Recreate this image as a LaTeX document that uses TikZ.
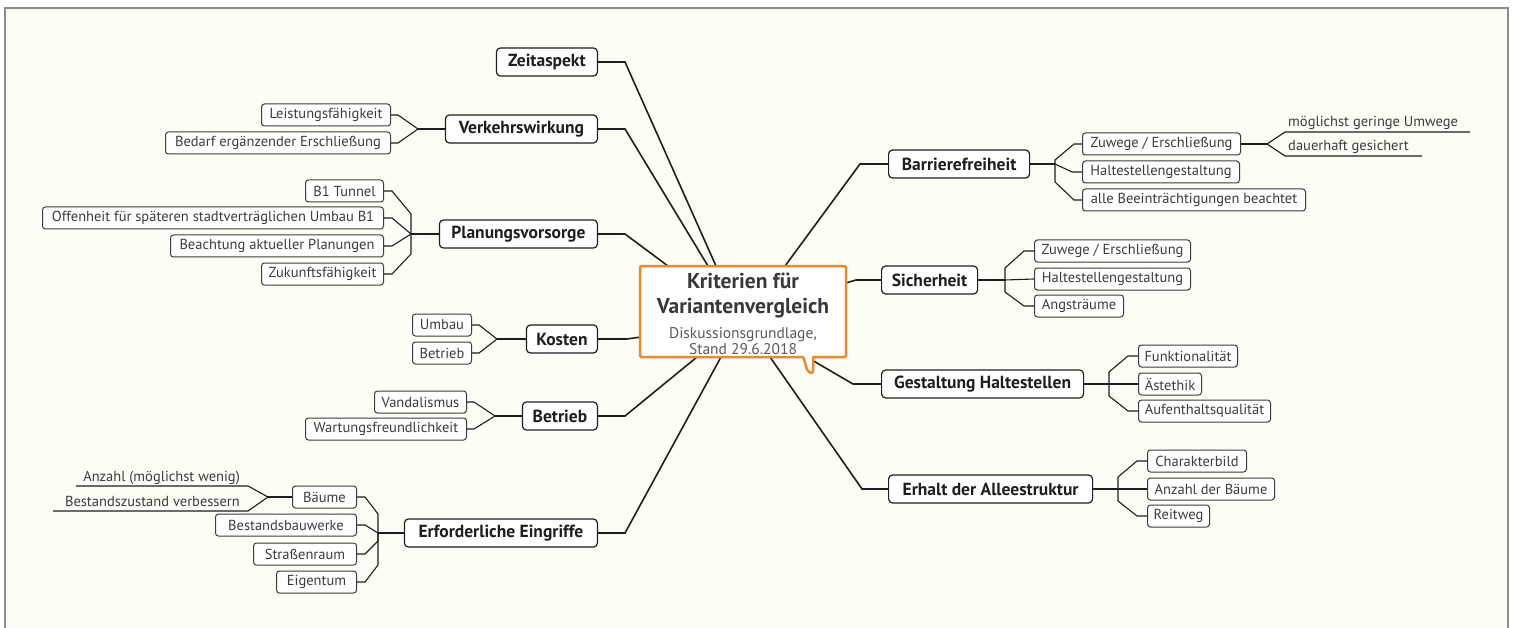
\documentclass[tikz,border=0pt]{standalone}
\usepackage{fontspec}
\setmainfont{PT Sans}
\usetikzlibrary{calc}
\definecolor{cream}{HTML}{FDFCF5}
\definecolor{framec}{HTML}{8C8C8C}
\definecolor{orng}{HTML}{EA8A2E}
\definecolor{ink}{HTML}{1E1E1E}
\definecolor{subink}{HTML}{3C3C3C}
\definecolor{grayt}{HTML}{5A5A5A}
\begin{document}
\begin{tikzpicture}[x=1pt,y=-1pt,
  mainbox/.style={draw=ink, line width=1.2pt, rounded corners=4pt, fill=white, font=\fontsize{17.5}{20}\selectfont\bfseries, text=ink, minimum height=28pt, inner xsep=5pt, inner ysep=0pt},
  subbox/.style={draw=subink, line width=1pt, rounded corners=3pt, fill=white, font=\fontsize{14.5}{16}\selectfont, text=subink, minimum height=22pt, inner xsep=4pt, inner ysep=0pt},
  floattext/.style={font=\fontsize{14.5}{16}\selectfont, text=subink, inner sep=0pt},
  mconn/.style={line width=1.6pt, draw=ink},
  sconn/.style={line width=1.1pt, draw=ink},
]
\useasboundingbox (0,0) rectangle (1514,628);
\fill[white] (0,0) rectangle (1514,628);
\begin{scope}
\clip (0,0) rectangle (1514,628);
\filldraw[fill=cream, draw=framec, line width=1.2pt] (5,8) rectangle (1508,650);
\end{scope}

% ---------- main topics, left
\node[mainbox, anchor=east, minimum width=101] (zeit) at (598,62) {Zeitaspekt};
\node[mainbox, anchor=east, minimum width=152] (verk) at (598,129) {Verkehrswirkung};
\node[mainbox, anchor=east, minimum width=158] (plan) at (598,234) {Planungsvorsorge};
\node[mainbox, anchor=east, minimum width=71] (kost) at (598,339) {Kosten};
\node[mainbox, anchor=east, minimum width=75] (betr) at (598,416) {Betrieb};
\node[mainbox, anchor=east, minimum width=193] (erf) at (598,533) {Erforderliche Eingriffe};

% ---------- main topics, right
\node[mainbox, anchor=west, minimum width=141] (barr) at (888,164) {Barrierefreiheit};
\node[mainbox, anchor=west, minimum width=96] (sich) at (881,280) {Sicherheit};
\node[mainbox, anchor=west, minimum width=202] (gest) at (881,384) {Gestaltung Haltestellen};
\node[mainbox, anchor=west, minimum width=204] (erh) at (888,489) {Erhalt der Alleestruktur};

% ---------- subtopics, left
\node[subbox, anchor=east, minimum width=129] (leist) at (391,115) {Leistungsfähigkeit};
\node[subbox, anchor=east, minimum width=225] (bedarf) at (391,143) {Bedarf ergänzender Erschließung};
\node[subbox, anchor=east, minimum width=78] (b1) at (384,191) {B1 Tunnel};
\node[subbox, anchor=east, minimum width=341] (offen) at (384,218) {Offenheit für späteren stadtverträglichen Umbau B1};
\node[subbox, anchor=east, minimum width=213] (beacht) at (384,246) {Beachtung aktueller Planungen};
\node[subbox, anchor=east, minimum width=122] (zuk) at (384,274) {Zukunftsfähigkeit};
\node[subbox, anchor=east, minimum width=59] (umbau) at (472,325) {Umbau};
\node[subbox, anchor=east, minimum width=59] (kbetr) at (472,353) {Betrieb};
\node[subbox, anchor=east, minimum width=92] (vand) at (467,402) {Vandalismus};
\node[subbox, anchor=east, minimum width=161] (wart) at (467,429) {Wartungsfreundlichkeit};
\node[subbox, anchor=east, minimum width=64] (baeume) at (357,497) {Bäume};
\node[subbox, anchor=east, minimum width=141] (bestand) at (357,525) {Bestandsbauwerke};
\node[subbox, anchor=east, minimum width=103] (strasse) at (357,554) {Straßenraum};
\node[subbox, anchor=east, minimum width=80] (eigen) at (357,582) {Eigentum};

% ---------- subtopics, right
\node[subbox, anchor=west, minimum width=158] (zw1) at (1082,144) {Zuwege / Erschließung};
\node[subbox, anchor=west, minimum width=157] (hs1) at (1082,172) {Haltestellengestaltung};
\node[subbox, anchor=west, minimum width=223] (alle) at (1082,200) {alle Beeinträchtigungen beachtet};
\node[subbox, anchor=west, minimum width=156] (zw2) at (1034,251) {Zuwege / Erschließung};
\node[subbox, anchor=west, minimum width=156] (hs2) at (1034,279) {Haltestellengestaltung};
\node[subbox, anchor=west, minimum width=89] (angst) at (1034,306) {Angsträume};
\node[subbox, anchor=west, minimum width=99] (funk) at (1138,356) {Funktionalität};
\node[subbox, anchor=west, minimum width=63] (aest) at (1138,384) {Ästethik};
\node[subbox, anchor=west, minimum width=132] (aufent) at (1138,411) {Aufenthaltsqualität};
\node[subbox, anchor=west, minimum width=99] (charak) at (1147,461) {Charakterbild};
\node[subbox, anchor=west, minimum width=127] (anzb) at (1147,489) {Anzahl der Bäume};
\node[subbox, anchor=west, minimum width=62] (reit) at (1147,516) {Reitweg};

% ---------- floating (underlined) topics
\coordinate (ua) at (76,486);
\coordinate (ub) at (53,511);
\coordinate (uc) at (1470,132);
\coordinate (ud) at (1422,156);
\node[floattext, anchor=base east] (anz) at (240,481) {Anzahl (möglichst wenig)};
\node[floattext, anchor=base east] (bzust) at (240,506) {Bestandszustand verbessern};
\node[floattext, anchor=base west] (umw) at (1288,127) {möglichst geringe Umwege};
\node[floattext, anchor=base west] (dauer) at (1288,151) {dauerhaft gesichert};

% ---------- attach points on central topic
\coordinate (cZeit) at (716,266);
\coordinate (cVerk) at (708,266);
\coordinate (cPlan) at (668,266);
\coordinate (cKost) at (641,337);
\coordinate (cBetr) at (697,357);
\coordinate (cErf) at (721,357);
\coordinate (cBarr) at (785,266);
\coordinate (cSich) at (846,283);
\coordinate (cGest) at (805,356);
\coordinate (cErh) at (770,357);

% ---------- main connectors
\draw[mconn] (zeit.east) -- ++(27,0) -- (cZeit);
\draw[mconn] (verk.east) -- ++(27,0) -- (cVerk);
\draw[mconn] (plan.east) -- ++(27,0) -- (cPlan);
\draw[mconn] (kost.east) -- ++(29,0) -- (cKost);
\draw[mconn] (betr.east) -- ++(27,0) -- (cBetr);
\draw[mconn] (erf.east) -- ++(27,0) -- (cErf);
\draw[mconn] (barr.west) -- ++(-28,0) -- (cBarr);
\draw[mconn] (sich.west) -- ++(-25,0) -- (cSich);
\draw[mconn] (gest.west) -- ++(-28,0) -- (cGest);
\draw[mconn] (erh.west) -- ++(-26,0) -- (cErh);

% ---------- forks, left
\coordinate (vf) at (418,129);
\draw[sconn] (vf) -- (verk.west);
\draw[sconn] (leist.east) -- ++(7,0) -- (vf);
\draw[sconn] (bedarf.east) -- ++(7,0) -- (vf);

\coordinate (pf) at (411,234);
\draw[sconn] (pf) -- (plan.west);
\draw[sconn] (b1.east) -- ++(8,0) -- ($(pf)+(0,-20)$) -- (pf);
\draw[sconn] (offen.east) -- ++(8,0) -- (pf);
\draw[sconn] (beacht.east) -- ++(8,0) -- (pf);
\draw[sconn] (zuk.east) -- ++(8,0) -- ($(pf)+(0,20)$) -- (pf);

\coordinate (kf) at (497,339);
\draw[sconn] (kf) -- (kost.west);
\draw[sconn] (umbau.east) -- ++(7,0) -- (kf);
\draw[sconn] (kbetr.east) -- ++(7,0) -- (kf);

\coordinate (btf) at (495,416);
\draw[sconn] (btf) -- (betr.west);
\draw[sconn] (vand.east) -- ++(7,0) -- (btf);
\draw[sconn] (wart.east) -- ++(7,0) -- (btf);

\coordinate (ef) at (378,533);
\draw[sconn] (ef) -- (erf.west);
\draw[sconn] (baeume.east) -- ++(8,0) -- ($(ef)+(0,-19)$) -- (ef);
\draw[sconn] (bestand.east) -- ++(8,0) -- (ef);
\draw[sconn] (strasse.east) -- ++(8,0) -- ($(ef)+(0,8)$) -- (ef);
\draw[sconn] (eigen.east) -- ++(8,0) -- ($(ef)+(0,32)$) -- (ef);

\coordinate (bmf) at (268,497);
\draw[sconn] (bmf) -- (baeume.west);
\draw[sconn] (bmf) -- (248,486) -- (ua);
\draw[sconn] (bmf) -- (248,511) -- (ub);

% ---------- forks, right
\coordinate (brf) at (1055,164);
\draw[sconn] (barr.east) -- (brf);
\draw[sconn] (brf) -- ++(0,-4) -- ($(zw1.west)+(-8,0)$) -- (zw1.west);
\draw[sconn] (brf) -- ($(hs1.west)+(-10,0)$) -- (hs1.west);
\draw[sconn] (brf) -- ++(0,18) -- ($(alle.west)+(-8,0)$) -- (alle.west);

\coordinate (zf) at (1267,144);
\draw[sconn] (zw1.east) -- (zf);
\draw[sconn] (zf) -- (1285,132) -- (uc);
\draw[sconn] (zf) -- (1285,156) -- (ud);

\coordinate (sf) at (1005,280);
\draw[sconn] (sich.east) -- (sf);
\draw[sconn] (sf) -- ++(0,-12) -- ($(zw2.west)+(-10,0)$) -- (zw2.west);
\draw[sconn] (sf) -- (hs2.west);
\draw[sconn] (sf) -- ++(0,12) -- ($(angst.west)+(-10,0)$) -- (angst.west);

\coordinate (gf) at (1109,384);
\draw[sconn] (gest.east) -- (gf);
\draw[sconn] (gf) -- ++(0,-12) -- ($(funk.west)+(-10,0)$) -- (funk.west);
\draw[sconn] (gf) -- (aest.west);
\draw[sconn] (gf) -- ++(0,12) -- ($(aufent.west)+(-10,0)$) -- (aufent.west);

\coordinate (af) at (1118,489);
\draw[sconn] (erh.east) -- (af);
\draw[sconn] (af) -- ++(0,-12) -- ($(charak.west)+(-10,0)$) -- (charak.west);
\draw[sconn] (af) -- (anzb.west);
\draw[sconn] (af) -- ++(0,12) -- ($(reit.west)+(-10,0)$) -- (reit.west);

% ---------- central topic
\node[draw=orng, line width=2.5pt, fill=white, minimum width=206, minimum height=91, inner sep=0pt, rounded corners=1.5pt] (ctr) at (743,311.5) {};
\fill[white] (803.5,355) -- (808,371) -- (812,372) -- (812,355) -- cycle;
\draw[orng, line width=2.5pt, line join=round, rounded corners=2pt] (803.5,357.5) -- (807.5,371.5) -- (813,373.5) -- (813,357.5);
\node[font=\fontsize{21.5}{25}\selectfont\bfseries, text=black!78, align=center] (ctitle) at (743,296) {Kriterien für\\Variantenvergleich};
\node[font=\fontsize{15.5}{16.5}\selectfont, text=grayt, align=center] (csub) at (743,341) {Diskussionsgrundlage,\\Stand 29.6.2018};
\end{tikzpicture}
\end{document}
